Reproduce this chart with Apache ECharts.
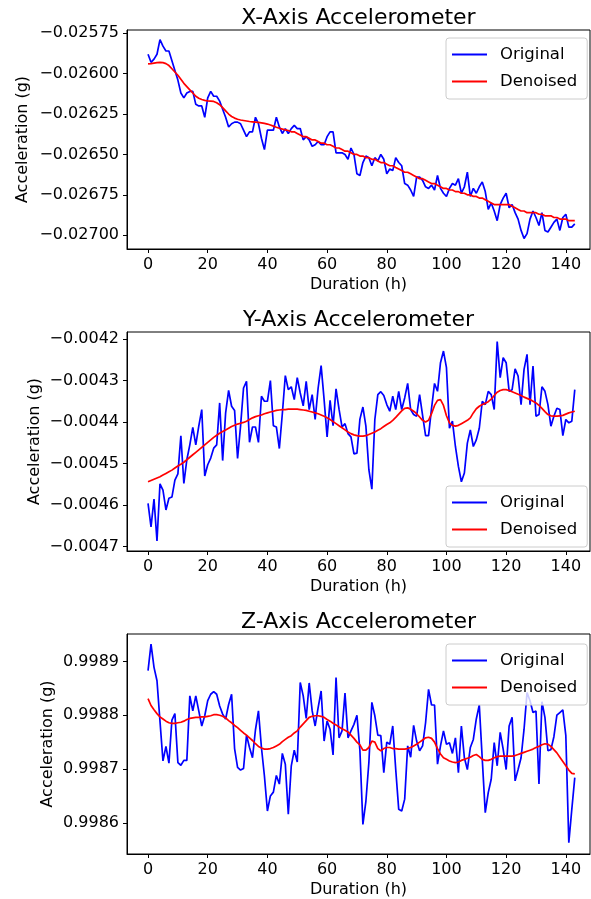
<!DOCTYPE html>
<html>
<head>
<meta charset="utf-8">
<script src="https://cdn.jsdelivr.net/npm/echarts@6/dist/echarts.min.js"></script>
<style>
html,body{margin:0;padding:0;background:#fff;}
#chart{width:591px;height:899px;}
</style>
</head>
<body>
<div id="chart"></div>
<script>
const hours = [0,1,2,3,4,5,6,7,8,9,10,11,12,13,14,15,16,17,18,19,20,21,22,23,24,25,26,27,28,29,30,31,32,33,34,35,36,37,38,39,40,41,42,43,44,45,46,47,48,49,50,51,52,53,54,55,56,57,58,59,60,61,62,63,64,65,66,67,68,69,70,71,72,73,74,75,76,77,78,79,80,81,82,83,84,85,86,87,88,89,90,91,92,93,94,95,96,97,98,99,100,101,102,103,104,105,106,107,108,109,110,111,112,113,114,115,116,117,118,119,120,121,122,123,124,125,126,127,128,129,130,131,132,133,134,135,136,137,138,139,140,141,142,143];

const xTicks = [0,20,40,60,80,100,120,140];
const yTicksX = [-0.027,-0.02675,-0.0265,-0.02625,-0.026,-0.02575];
const yTicksY = [-0.0047,-0.0046,-0.0045,-0.0044,-0.0043,-0.0042];
const yTicksZ = [0.9986,0.9987,0.9988,0.9989];

const titles = ['X-Axis Accelerometer','Y-Axis Accelerometer','Z-Axis Accelerometer'];
const xLabel = 'Duration (h)';
const yLabel = 'Acceleration (g)';
const seriesNames = ['Original','Denoised'];

const origX = [-0.02588,-0.02593,-0.02591,-0.02588,-0.02579,-0.02583,-0.02586,-0.02586,-0.02592,-0.02598,-0.02604,-0.02612,-0.02615,-0.02612,-0.02611,-0.02611,-0.02619,-0.02620,-0.02620,-0.02627,-0.02615,-0.02611,-0.02614,-0.02614,-0.02617,-0.02622,-0.02627,-0.02633,-0.02631,-0.02630,-0.02630,-0.02631,-0.02635,-0.02639,-0.02636,-0.02636,-0.02627,-0.02631,-0.02640,-0.02647,-0.02635,-0.02635,-0.02635,-0.02627,-0.02633,-0.02637,-0.02634,-0.02637,
-0.02634,-0.02632,-0.02634,-0.02634,-0.02641,-0.02639,-0.02641,-0.02645,-0.02644,-0.02642,-0.02644,-0.02644,-0.02639,-0.02636,-0.02636,-0.02649,-0.02649,-0.02649,-0.02650,-0.02653,-0.02646,-0.02650,-0.02662,-0.02663,-0.02655,-0.02651,-0.02652,-0.02657,-0.02652,-0.02654,-0.02650,-0.02653,-0.02662,-0.02659,-0.02660,-0.02652,-0.02655,-0.02657,-0.02668,-0.02669,-0.02672,-0.02676,-0.02664,-0.02664,-0.02666,-0.02670,-0.02671,-0.02669,
-0.02672,-0.02663,-0.02671,-0.02674,-0.02676,-0.02671,-0.02668,-0.02669,-0.02665,-0.02674,-0.02670,-0.02661,-0.02676,-0.02671,-0.02674,-0.02670,-0.02667,-0.02673,-0.02684,-0.02680,-0.02685,-0.02691,-0.02681,-0.02677,-0.02674,-0.02683,-0.02681,-0.02686,-0.02690,-0.02697,-0.02702,-0.02699,-0.02690,-0.02685,-0.02689,-0.02694,-0.02686,-0.02697,-0.02698,-0.02695,-0.02692,-0.02690,-0.02697,-0.02689,-0.02687,-0.02695,-0.02695,-0.02693];

const denX = [-0.025940,-0.025938,-0.025935,-0.025932,-0.025930,-0.025932,-0.025938,-0.025950,-0.025970,-0.025990,-0.026010,-0.026035,-0.026060,-0.026080,-0.026100,-0.026120,-0.026140,-0.026152,-0.026160,-0.026165,-0.026168,-0.026170,-0.026172,-0.026180,-0.026192,-0.026210,-0.026230,-0.026250,-0.026265,-0.026275,-0.026282,-0.026287,-0.026290,-0.026293,-0.026296,-0.026298,-0.026300,-0.026302,-0.026305,-0.026308,-0.026312,-0.026318,-0.026325,-0.026332,-0.026338,-0.026343,-0.026348,-0.026352,
-0.02636,-0.02636,-0.02637,-0.02638,-0.02639,-0.02639,-0.02640,-0.02641,-0.02641,-0.02642,-0.02643,-0.02643,-0.02644,-0.02644,-0.02645,-0.02646,-0.02646,-0.02647,-0.02648,-0.02648,-0.02649,-0.02650,-0.02650,-0.02651,-0.02651,-0.02652,-0.02652,-0.02653,-0.02653,-0.02654,-0.02655,-0.02655,-0.02656,-0.02657,-0.02657,-0.02658,-0.02659,-0.02660,-0.02661,-0.02661,-0.02662,-0.02663,-0.02664,-0.02665,-0.02665,-0.02666,-0.02667,-0.02668,
-0.02668,-0.02669,-0.02670,-0.02671,-0.02671,-0.02672,-0.02672,-0.02673,-0.02673,-0.02674,-0.02674,-0.02675,-0.02675,-0.02676,-0.02676,-0.02677,-0.02677,-0.02678,-0.02679,-0.02680,-0.02681,-0.02681,-0.02681,-0.02681,-0.02681,-0.02681,-0.02682,-0.02683,-0.02684,-0.02685,-0.02685,-0.02686,-0.02686,-0.02686,-0.02686,-0.02687,-0.02687,-0.02688,-0.02688,-0.02688,-0.02689,-0.02689,-0.02690,-0.02690,-0.02690,-0.02691,-0.02691,-0.02691];

const origY = [-0.004596,-0.004653,-0.004586,-0.004687,-0.004549,-0.004564,-0.004612,-0.004584,-0.004581,-0.004540,-0.004525,-0.004433,-0.004548,-0.004491,-0.004455,-0.004413,-0.004455,-0.004410,-0.004370,-0.004530,-0.004503,-0.004487,-0.004463,-0.004455,-0.004354,-0.004493,-0.004378,-0.004324,-0.004362,-0.004372,-0.004488,-0.004410,-0.004318,-0.004302,-0.004449,-0.004412,-0.004412,-0.004449,-0.004338,-0.004350,-0.004350,-0.004300,-0.004409,-0.004412,-0.004464,-0.004380,-0.004288,-0.004322,
-0.004315,-0.004346,-0.004293,-0.004330,-0.004361,-0.004302,-0.004370,-0.004334,-0.004394,-0.004318,-0.004264,-0.004346,-0.004436,-0.004348,-0.004409,-0.004320,-0.004369,-0.004412,-0.004404,-0.004428,-0.004436,-0.004477,-0.004475,-0.004393,-0.004364,-0.004410,-0.004515,-0.004562,-0.004394,-0.004334,-0.004327,-0.004336,-0.004358,-0.004374,-0.004338,-0.004370,-0.004326,-0.004370,-0.004342,-0.004307,-0.004370,-0.004382,-0.004386,-0.004334,-0.004384,-0.004433,-0.004433,-0.004367,-0.004307,
-0.004326,-0.004257,-0.004229,-0.004269,-0.004415,-0.004398,-0.004459,-0.004507,-0.004544,-0.004523,-0.004451,-0.004419,-0.004459,-0.004443,-0.004415,-0.004350,-0.004358,-0.004326,-0.004334,-0.004370,-0.004206,-0.004293,-0.004245,-0.004257,-0.004326,-0.004322,-0.004272,-0.004289,-0.004358,-0.004273,-0.004237,-0.004358,-0.004265,-0.004386,-0.004382,-0.004315,-0.004326,-0.004358,-0.004410,-0.004386,-0.004367,-0.004370,-0.004433,-0.004394,-0.004402,-0.004398,-0.004322];

const denY = [-0.004544,-0.004541,-0.004538,-0.004535,-0.004532,-0.004528,-0.004524,-0.004520,-0.004516,-0.004511,-0.004506,-0.004502,-0.004497,-0.004491,-0.004485,-0.004479,-0.004473,-0.004467,-0.004461,-0.004455,-0.004449,-0.004443,-0.004437,-0.004432,-0.004427,-0.004423,-0.004419,-0.004415,-0.004411,-0.004408,-0.004405,-0.004403,-0.004401,-0.004398,-0.004394,-0.004390,-0.004387,-0.004385,-0.004383,-0.004380,-0.004378,-0.004376,-0.004374,-0.004372,-0.004371,-0.004370,-0.004370,-0.004369,
-0.004369,-0.004369,-0.004369,-0.004370,-0.004371,-0.004372,-0.004374,-0.004376,-0.004378,-0.004380,-0.004383,-0.004386,-0.004390,-0.004394,-0.004399,-0.004404,-0.004409,-0.004414,-0.004419,-0.004424,-0.004428,-0.004431,-0.004433,-0.004434,-0.004434,-0.004433,-0.004430,-0.004427,-0.004424,-0.004420,-0.004416,-0.004411,-0.004406,-0.004402,-0.004396,-0.004389,-0.004381,-0.004373,-0.004367,-0.004366,-0.004369,-0.004374,-0.004380,-0.004388,-0.004396,-0.004400,-0.004396,-0.004380,
-0.004360,-0.004348,-0.004346,-0.004360,-0.004385,-0.004402,-0.004408,-0.004410,-0.004408,-0.004404,-0.004400,-0.004396,-0.004390,-0.004378,-0.004368,-0.004362,-0.004358,-0.004355,-0.004351,-0.004345,-0.004336,-0.004328,-0.004324,-0.004322,-0.004322,-0.004324,-0.004327,-0.004330,-0.004333,-0.004336,-0.004340,-0.004343,-0.004346,-0.004350,-0.004354,-0.004360,-0.004367,-0.004375,-0.004382,-0.004385,-0.004386,-0.004386,-0.004385,-0.004384,-0.004381,-0.004378,-0.004376,-0.004374];

const origZ = [0.998883,0.998932,0.998889,0.998864,0.998789,0.998715,0.998742,0.998711,0.998791,0.998803,0.998712,0.998707,0.998716,0.998716,0.998836,0.998808,0.998836,0.998808,0.998780,0.998799,0.998827,0.998839,0.998844,0.998839,0.998817,0.998802,0.998793,0.998820,0.998839,0.998738,0.998703,0.998698,0.998701,0.998763,0.998740,0.998721,0.998773,0.998808,0.998740,0.998687,0.998622,0.998650,0.998657,0.998688,0.998672,0.998729,0.998709,0.998616,
0.998706,0.998735,0.998713,0.998861,0.998836,0.998794,0.998860,0.998808,0.998780,0.998814,0.998845,0.998752,0.998789,0.998774,0.998726,0.998870,0.998758,0.998771,0.998841,0.998758,0.998771,0.998783,0.998800,0.998734,0.998597,0.998640,0.998712,0.998824,0.998799,0.998763,0.998762,0.998693,0.998750,0.998746,0.998780,0.998699,0.998625,0.998622,0.998644,0.998743,0.998722,0.998781,0.998752,0.998734,0.998743,0.998786,0.998848,0.998819,0.998819,
0.998709,0.998743,0.998771,0.998746,0.998749,0.998729,0.998758,0.998693,0.998780,0.998721,0.998699,0.998740,0.998755,0.998793,0.998819,0.998718,0.998619,0.998656,0.998681,0.998749,0.998706,0.998768,0.998737,0.998699,0.998780,0.998796,0.998678,0.998699,0.998721,0.998774,0.998842,0.998827,0.998805,0.998808,0.998672,0.998825,0.998796,0.998734,0.998736,0.998760,0.998800,0.998805,0.998810,0.998762,0.998563,0.998625,0.998684];

const denZ = [0.998831,0.998818,0.998810,0.998803,0.998797,0.998793,0.998789,0.998786,0.998785,0.998785,0.998786,0.998787,0.998789,0.998792,0.998794,0.998795,0.998796,0.998796,0.998797,0.998797,0.998798,0.998799,0.998801,0.998801,0.998800,0.998798,0.998795,0.998790,0.998786,0.998781,0.998777,0.998772,0.998767,0.998763,0.998758,0.998753,0.998747,0.998742,0.998739,0.998737,0.998737,0.998738,0.998740,0.998743,0.998746,0.998751,0.998755,0.998759,
0.998762,0.998767,0.998771,0.998778,0.998784,0.998790,0.998796,0.998798,0.998799,0.998799,0.998798,0.998796,0.998792,0.998789,0.998785,0.998782,0.998778,0.998775,0.998772,0.998769,0.998763,0.998757,0.998750,0.998745,0.998735,0.998735,0.998740,0.998752,0.998750,0.998738,0.998734,0.998738,0.998740,0.998740,0.998738,0.998738,0.998737,0.998737,0.998737,0.998738,0.998740,0.998743,0.998746,0.998750,0.998754,0.998758,0.998759,0.998757,
0.998750,0.998738,0.998728,0.998721,0.998718,0.998715,0.998713,0.998712,0.998713,0.998716,0.998718,0.998720,0.998722,0.998725,0.998727,0.998723,0.998718,0.998716,0.998716,0.998718,0.998721,0.998723,0.998724,0.998724,0.998724,0.998724,0.998724,0.998725,0.998727,0.998729,0.998731,0.998733,0.998735,0.998737,0.998740,0.998742,0.998745,0.998747,0.998746,0.998742,0.998736,0.998730,0.998722,0.998714,0.998706,0.998698,0.998692,0.998691];

const FONT = 'DejaVu Sans';
const panels = [
  {orig: origX, den: denX, ticks: yTicksX, dec: 5, min: -0.027085, max: -0.025730, top: 30, height: 219, legendTop: 38, ylabX: 23},
  {orig: origY, den: denY, ticks: yTicksY, dec: 4, min: -0.004711, max: -0.004183, top: 332, height: 219, legendTop: 486, ylabX: 35},
  {orig: origZ, den: denZ, ticks: yTicksZ, dec: 4, min: 0.998542, max: 0.998951, top: 634, height: 220, legendTop: 644, ylabX: 48}
];
const GL = 127, GW = 463;
const fmt = d => v => (v < 0 ? '\u2212' : '') + Math.abs(v).toFixed(d);
const pairs = arr => hours.map((h, i) => [h, arr[i]]);

const grid = [], xAxis = [], yAxis = [], series = [], legend = [], graphic = [];
panels.forEach((p, i) => {
  grid.push({left: GL, top: p.top, width: GW, height: p.height, show: true, borderColor: '#000', borderWidth: 1, backgroundColor: 'transparent', containLabel: false});
  xAxis.push({
    type: 'value', gridIndex: i, min: -7.05, max: 148.1,
    axisLine: {show: true, onZero: false, lineStyle: {color: '#000', width: 1}},
    axisTick: {show: true, length: 4, lineStyle: {color: '#000', width: 1}, customValues: xTicks},
    axisLabel: {show: true, margin: 8, fontFamily: FONT, fontSize: 16, color: '#000', customValues: xTicks, formatter: v => String(Math.round(v))},
    splitLine: {show: false}
  });
  yAxis.push({
    type: 'value', gridIndex: i, min: p.min, max: p.max, scale: true,
    axisLine: {show: true, onZero: false, lineStyle: {color: '#000', width: 1}},
    axisTick: {show: true, length: 4, lineStyle: {color: '#000', width: 1}, customValues: p.ticks},
    axisLabel: {show: true, margin: 8, fontFamily: FONT, fontSize: 16, color: '#000', customValues: p.ticks, formatter: fmt(p.dec)},
    splitLine: {show: false}
  });
  series.push({name: seriesNames[0], type: 'line', xAxisIndex: i, yAxisIndex: i, data: pairs(p.orig), symbol: 'none', showSymbol: false, color: '#0000ff', lineStyle: {color: '#0000ff', width: 1.7}, z: 2, animation: false});
  series.push({name: seriesNames[1], type: 'line', xAxisIndex: i, yAxisIndex: i, data: pairs(p.den), symbol: 'none', showSymbol: false, color: '#ff0000', lineStyle: {color: '#ff0000', width: 1.7}, z: 3, animation: false});
  legend.push({
    orient: 'vertical', left: 446, top: p.legendTop, data: seriesNames, icon: 'rect',
    itemWidth: 35, itemHeight: 2, itemGap: 10, selectedMode: false,
    padding: [8, 10, 9, 6], backgroundColor: 'rgba(255,255,255,0.8)', borderColor: '#cccccc', borderWidth: 1, borderRadius: 3,
    itemStyle: {borderWidth: 0},
    textStyle: {fontFamily: FONT, fontSize: 16.5, color: '#000', padding: [0, 0, 0, 8]}
  });
  graphic.push({type: 'text', x: GL + GW / 2, y: p.top - 12, style: {text: titles[i], font: '22px "DejaVu Sans"', fill: '#000', align: 'center', verticalAlign: 'middle'}});
  graphic.push({type: 'text', x: GL + GW / 2, y: p.top + p.height + 35.5, style: {text: xLabel, font: '16px "DejaVu Sans"', fill: '#000', align: 'center', verticalAlign: 'middle'}});
  graphic.push({type: 'text', x: p.ylabX, y: p.top + p.height / 2, rotation: Math.PI / 2, style: {text: yLabel, font: '16px "DejaVu Sans"', fill: '#000', align: 'center', verticalAlign: 'middle'}});
});

const chart = echarts.init(document.getElementById('chart'), null, {renderer: 'canvas'});
chart.setOption({animation: false, backgroundColor: '#fff', grid, xAxis, yAxis, series, legend, graphic});
</script>
</body>
</html>
